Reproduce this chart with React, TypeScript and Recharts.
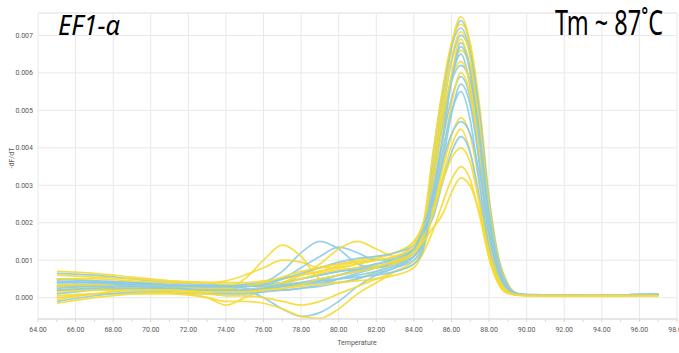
import React from 'react';
import { LineChart, Line, XAxis, YAxis, CartesianGrid, ReferenceLine } from 'recharts';

// melt curve, -dF/dT values are in units of 1e-4
const temps = [65, 67, 69, 71, 73, 74, 75, 76, 77, 78, 79, 80, 81, 82, 83, 84, 84.5, 85, 85.5, 86, 86.5, 87, 87.5, 88, 88.5, 89, 89.5, 90, 92, 97];

const yellow1 = [7, 6.5, 5.5, 4.5, 4, 3.5, 3.5, 4, 5, 6, 7, 8, 9, 10, 11, 14, 19, 34.5, 52, 67.5, 75, 67.5, 46.5, 22.5, 8.3, 2.6, 1, 0.7, 0.6, 0.7];
const yellow2 = [6, 5.5, 5, 4.5, 4, 4, 4, 4.5, 5, 6, 7, 8.5, 9.5, 10.5, 12, 15, 20, 38, 55, 67.9, 73, 67.9, 51.1, 27, 11, 3.7, 1.1, 0.7, 0.6, 0.7];
const yellow3 = [2, 2.5, 2.5, 2, 2, 2.5, 5, 10, 14, 11, 5, 4, 5, 7, 9, 12, 17, 32.8, 49.3, 63.9, 71, 63.9, 44, 21.3, 7.8, 2.5, 0.9, 0.7, 0.6, 0.6];
const yellow4 = [5, 5, 4.5, 4, 4, 4.5, 6, 8, 10, 9.5, 8, 8, 9, 10, 11, 13, 18, 27.8, 42.4, 59.3, 69, 59.3, 38, 16.6, 5.5, 1.7, 0.8, 0.6, 0.6, 0.6];
const yellow5 = [2, 2.5, 2, 1.5, 0, -2, 0, 2, 4, 6, 8, 9, 10, 11, 12, 15, 20, 30.7, 45.9, 59.4, 66, 61.4, 46.2, 24.4, 9.9, 3.3, 1.1, 0.7, 0.6, 0.7];
const yellow6 = [3, 3, 3, 2.5, 2, 2, 2, 3, 4, 6, 9, 13, 15, 13, 11, 13, 18, 33.2, 47.6, 58.6, 63, 56.7, 39.1, 18.9, 6.9, 2.2, 0.9, 0.7, 0.6, 0.6];
const yellow7 = [0.5, 1, 1, 1, 0, -1, -1, -1.5, -3, -5, -5.5, -3, 1, 4, 7, 10, 14, 24.6, 37, 51.6, 60, 54, 37.2, 18, 6.6, 2.1, 0.8, 0.6, 0.6, 0.6];
const yellow8 = [3.5, 3.5, 3, 3, 2.5, 2.5, 3, 4, 5.5, 7, 8, 9, 9.5, 10, 11, 14, 19, 23.2, 33.6, 43.2, 48, 43.2, 29.8, 14.4, 5.3, 1.7, 0.8, 0.6, 0.6, 0.6];
const yellow9 = [-1.5, 0, 1, 1.5, 1, 0.5, 0.5, 0, -1, -2, -1, 1, 3, 5, 7, 9, 13, 21.9, 31.6, 40.5, 45, 38.7, 24.8, 10.8, 3.6, 1.1, 0.7, 0.6, 0.6, 0.6];
const yellow10 = [0, 1, 2, 2, 2, 2, 2, 2.5, 3.5, 5, 6.5, 7.5, 8, 8.5, 9.5, 12, 16, 22.2, 30.6, 37.2, 40, 36, 24.8, 12, 4.4, 1.4, 0.7, 0.6, 0.6, 0.6];
const yellow11 = [1.5, 2, 2, 2, 1.5, 1.5, 1.5, 2, 2.5, 3, 3.5, 4, 4.5, 5, 6, 8, 12, 17.7, 24.8, 31.5, 35, 31.5, 21.7, 10.5, 3.9, 1.2, 0.7, 0.6, 0.6, 0.6];
const yellow12 = [-0.5, 1, 2, 2, 1.5, 1.5, 1.5, 2, 2.5, 3.5, 5, 6, 7, 8, 10, 12, 15, 18.5, 22, 28, 32, 29.8, 22.4, 11.8, 4.8, 1.6, 0.8, 0.6, 0.6, 0.6];

const blue1 = [6.5, 6, 5, 4, 3.5, 3.5, 3.5, 3.5, 4, 5, 6, 7, 7.5, 8, 9, 11, 15, 34.1, 51.3, 66.6, 74, 66.6, 45.9, 22.2, 8.1, 2.6, 1, 0.7, 0.7, 0.8];
const blue2 = [4, 4, 3.5, 3, 3, 3, 3, 4, 7, 12, 15, 13, 9, 8, 9, 12, 16, 37.6, 54.3, 67, 72, 64.8, 44.6, 21.6, 7.9, 2.5, 1, 0.7, 0.7, 0.8];
const blue3 = [5, 4.5, 4, 3.5, 3, 3, 3, 3.5, 4, 5, 6, 7, 8, 9, 10, 12, 17, 32.4, 48.6, 63, 70, 65.1, 49, 25.9, 10.5, 3.5, 1.1, 0.8, 0.7, 0.8];
const blue4 = [5, 4.5, 4, 3, 2.5, 2.5, 2, 0, -3, -5, -4, -1, 3, 6, 8, 11, 15, 27.5, 41.8, 58.5, 68, 61.2, 42.2, 20.4, 7.5, 2.4, 1, 0.7, 0.7, 0.8];
const blue5 = [3, 3, 3, 2.5, 2.5, 2.5, 3, 3.5, 5, 8, 11, 13.5, 12, 10, 10, 13, 18, 30.3, 45.2, 58.5, 65, 55.9, 35.8, 15.6, 5.2, 1.6, 0.9, 0.7, 0.7, 0.8];
const blue6 = [3, 3.5, 3.5, 3, 2.5, 2, 2, 2.5, 3, 4, 5, 6, 7, 8, 9.5, 12, 16, 32.8, 46.9, 57.7, 62, 57.7, 43.4, 22.9, 9.3, 3.1, 1.1, 0.8, 0.7, 0.8];
const blue7 = [4.5, 4, 3.5, 3, 3, 3, 3.5, 4, 5, 6.5, 8, 9.5, 10.5, 11, 12, 14, 19, 27.8, 41.1, 53.1, 59, 53.1, 36.6, 17.7, 6.5, 2.1, 0.9, 0.7, 0.7, 0.8];
const blue8 = [1, 2, 2.5, 2.5, 2, 1.5, 1.5, 2, 3, 3.5, 4, 5, 6, 7, 8.5, 11, 15, 23.5, 35.2, 49, 57, 51.3, 35.3, 17.1, 6.3, 2, 0.9, 0.7, 0.7, 0.8];
const blue9 = [-1, 0.5, 1.5, 1.5, 1, 1, 1, 1.5, 2, 2.5, 3, 4, 5, 6.5, 8, 10, 14, 26.1, 38.4, 49.5, 55, 47.3, 30.3, 13.2, 4.4, 1.4, 0.8, 0.7, 0.7, 0.8];
const blue10 = [4, 4, 4, 3.5, 3, 3, 2.5, 2, 2, 2.5, 3.5, 5, 6.5, 8, 10, 13, 18, 21.1, 30.2, 38.7, 43, 38.7, 26.7, 12.9, 4.7, 1.5, 0.8, 0.7, 0.7, 0.8];
const blue11 = [2.5, 3, 3, 2.5, 2, 2, 2, 2.5, 3, 3.5, 4.5, 6, 7.5, 9, 10.5, 13, 18, 25.6, 35.8, 43.7, 47, 43.7, 32.9, 17.4, 7.1, 2.4, 1, 0.7, 0.7, 0.8];
const blue12 = [2, 2.5, 3, 3, 3, 3, 3, 3, 3.5, 4, 4.5, 5, 5.5, 6, 7, 9, 13, 27.1, 41.2, 57.6, 67, 60.3, 41.5, 20.1, 7.4, 2.3, 0.9, 0.7, 0.7, 0.8];

const yellowSeries = [yellow1, yellow2, yellow3, yellow4, yellow5, yellow6, yellow7, yellow8, yellow9, yellow10, yellow11, yellow12];
const blueSeries = [blue1, blue2, blue3, blue4, blue5, blue6, blue7, blue8, blue9, blue10, blue11, blue12];

const xTicks = [64, 66, 68, 70, 72, 74, 76, 78, 80, 82, 84, 86, 88, 90, 92, 94, 96, 98];
const xMinorTicks = [64, 65, 66, 67, 68, 69, 70, 71, 72, 73, 74, 75, 76, 77, 78, 79, 80, 81, 82, 83, 84, 85, 86, 87, 88, 89, 90, 91, 92, 93, 94, 95, 96, 97, 98];
const yTicks = [0, 0.001, 0.002, 0.003, 0.004, 0.005, 0.006, 0.007];

const YELLOW = '#F6DA35';
const BLUE = '#8CCBE8';
const GRID = '#e8e8e8';
const TEXT = '#595959';

const rows = temps.map((t, i) => {
  const row: any = { t };
  yellowSeries.forEach((s, k) => { row[`y${k}`] = s[i] * 1e-4; });
  blueSeries.forEach((s, k) => { row[`b${k}`] = s[i] * 1e-4; });
  return row;
});

// interleave so neither colour sits fully on top
const order: { key: string; color: string }[] = [];
for (let k = 0; k < 12; k++) {
  order.push({ key: `b${k}`, color: BLUE });
  order.push({ key: `y${k}`, color: YELLOW });
}

export default function App() {
  return (
    <div style={{ position: 'absolute', left: 0, top: 0, width: 679, height: 353, background: '#fff' }}>
      <LineChart width={679} height={353} data={rows} margin={{ top: 13, right: 2, left: 0, bottom: 0 }}>
        <CartesianGrid vertical={false} stroke={GRID} />
        {xTicks.map(v => (
          <ReferenceLine key={v} x={v} stroke={GRID} />
        ))}
        <ReferenceLine y={0.0076} stroke={GRID} />
        <XAxis
          type="number"
          dataKey="t"
          domain={[64, 98]}
          ticks={xMinorTicks}
          interval={0}
          tickFormatter={(v: number) => (v % 2 === 0 ? v.toFixed(2) : '')}
          tick={{ fontSize: 7, fill: TEXT, fontFamily: 'Roboto' }}
          tickSize={3}
          tickMargin={5}
          axisLine={{ stroke: '#d9d9d9' }}
          tickLine={{ stroke: '#d9d9d9' }}
          height={34}
        />
        <YAxis
          type="number"
          domain={[-0.00057, 0.0076]}
          ticks={yTicks}
          tickFormatter={(v: number) => v.toFixed(3)}
          tick={{ fontSize: 7, fill: TEXT, fontFamily: 'Roboto' }}
          axisLine={false}
          tickLine={false}
          tickSize={3}
          tickMargin={2}
          width={38}
          allowDataOverflow
        />
        {order.map(o => (
          <Line
            key={o.key}
            type="monotone"
            dataKey={o.key}
            stroke={o.color}
            strokeWidth={1.7}
            strokeOpacity={0.9}
            dot={false}
            isAnimationActive={false}
          />
        ))}
      </LineChart>
      <svg width={679} height={353} style={{ position: 'absolute', left: 0, top: 0, pointerEvents: 'none' }}>
        <text x={58} y={35} fontSize={28} fontStyle="italic" fontFamily="Noto Sans" fill="#000" textLength={62} lengthAdjust="spacingAndGlyphs">
          EF1-α
        </text>
        <text x={555} y={35} fontSize={34} fontFamily="Noto Sans" fill="#000" textLength={108} lengthAdjust="spacingAndGlyphs">
          Tm ~ 87˚C
        </text>
        <text x={12} y={158} fontSize={7} fontFamily="Roboto" fill={TEXT} textAnchor="middle" dominantBaseline="middle" transform="rotate(-90 12 158)">
          -dF/dT
        </text>
        <text x={357} y={343} fontSize={7} fontFamily="Roboto" fill={TEXT} textAnchor="middle" dominantBaseline="middle">
          Temperature
        </text>
      </svg>
    </div>
  );
}
